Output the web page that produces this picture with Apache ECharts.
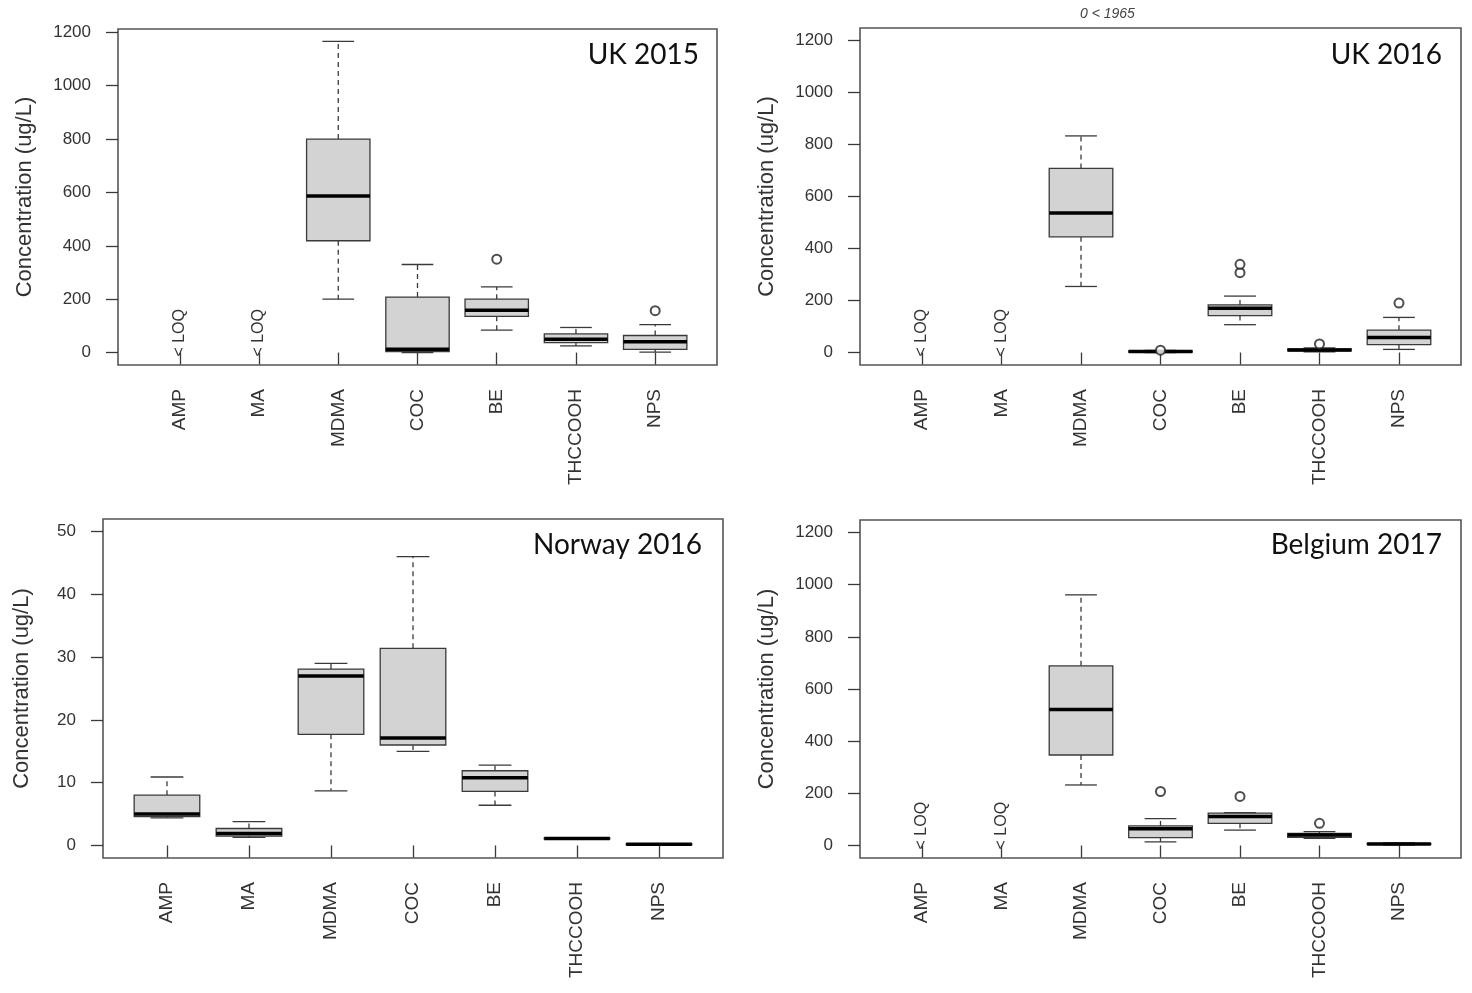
<!DOCTYPE html>
<html>
<head>
<meta charset="utf-8">
<script src="https://cdn.jsdelivr.net/npm/echarts@6/dist/echarts.min.js"></script>
<style>
html,body{margin:0;padding:0;background:#fff;}
#chart{width:1472px;height:993px;}
</style>
</head>
<body>
<div id="chart"></div>
<script>
// ---------------- DATA ----------------
const categories = ['AMP', 'MA', 'MDMA', 'COC', 'BE', 'THCCOOH', 'NPS'];

// box stats per category: [min whisker, Q1, median, Q3, max whisker]; null = not drawn
const uk2015Box = [null, null, [200, 419, 587, 800, 1166], [0, 4, 12, 208, 330], [84, 136, 159, 200, 246], [25, 37, 50, 70, 94], [2, 12, 41, 64, 105]];
const uk2015Outliers = [['BE', 350], ['NPS', 157]];
const uk2015Loq = ['AMP', 'MA'];

const uk2016Box = [null, null, [254, 445, 537, 708, 833], [0, 2, 4, 6, 8], [107, 142, 170, 183, 217], [3, 6, 10, 14, 18], [12, 30, 58, 86, 135]];
const uk2016Outliers = [['COC', 9], ['BE', 307], ['BE', 339], ['THCCOOH', 33], ['NPS', 190]];
const uk2016Loq = ['AMP', 'MA'];
const uk2016OffScaleNote = '0 < 1965';

const norway2016Box = [[4.4, 4.6, 5.0, 8.0, 10.9], [1.3, 1.5, 1.9, 2.7, 3.8], [8.7, 17.7, 27.0, 28.1, 29.0], [15.0, 16.0, 17.1, 31.4, 46.0], [6.4, 8.6, 10.8, 11.9, 12.8], [1.0, 1.05, 1.1, 1.15, 1.2], [0.1, 0.15, 0.2, 0.25, 0.3]];
const norway2016Outliers = [];
const norway2016Loq = [];

const belgium2017Box = [null, null, [232, 347, 521, 689, 961], [14, 30, 64, 75, 103], [59, 85, 111, 124, 126], [27, 31, 40, 46, 53], [2, 4, 6, 8, 10]];
const belgium2017Outliers = [['COC', 207], ['BE', 188], ['THCCOOH', 85]];
const belgium2017Loq = ['AMP', 'MA'];

const yTicksUg = [0, 200, 400, 600, 800, 1000, 1200];
const yTicksNorway = [0, 10, 20, 30, 40, 50];
const yAxisTitle = 'Concentration (ug/L)';

// ---------------- LAYOUT ----------------
const panels = [
  {title: 'UK 2015', box: uk2015Box, out: uk2015Outliers, loq: uk2015Loq, yMin: -46.6, yMax: 1212.6, yTicks: yTicksUg,
   left: 118, top: 29, width: 599, height: 336, nameGap: 82, titleRight: 773, titleTop: 41},
  {title: 'UK 2016', box: uk2016Box, out: uk2016Outliers, loq: uk2016Loq, yMin: -48, yMax: 1248, yTicks: yTicksUg,
   left: 860, top: 28, width: 601, height: 337, nameGap: 82, titleRight: 30, titleTop: 41},
  {title: 'Norway 2016', box: norway2016Box, out: norway2016Outliers, loq: norway2016Loq, yMin: -2, yMax: 52, yTicks: yTicksNorway,
   left: 103, top: 519, width: 620, height: 339, nameGap: 70, titleRight: 770, titleTop: 531},
  {title: 'Belgium 2017', box: belgium2017Box, out: belgium2017Outliers, loq: belgium2017Loq, yMin: -48, yMax: 1248, yTicks: yTicksUg,
   left: 860, top: 520, width: 601, height: 338, nameGap: 82, titleRight: 30, titleTop: 531}
];

const axisFont = 'Liberation Sans, Arial, sans-serif';
const textColor = '#333';
const lineColor = '#3a3a3a';

function renderBox(params, api) {
  const x = api.value(0);
  const lo = api.value(1), q1 = api.value(2), med = api.value(3), q3 = api.value(4), hi = api.value(5);
  const w = api.size([0.8, 0])[0];
  const cx = api.coord([x, med])[0];
  const py = v => api.coord([x, v])[1];
  const half = w / 2, cap = w / 4;
  const dashed = {stroke: lineColor, lineWidth: 1.3, lineDash: [5, 4]};
  const solid = {stroke: lineColor, lineWidth: 1.3};
  return {
    type: 'group',
    children: [
      {type: 'line', shape: {x1: cx, y1: py(q3), x2: cx, y2: py(hi)}, style: dashed},
      {type: 'line', shape: {x1: cx, y1: py(q1), x2: cx, y2: py(lo)}, style: dashed},
      {type: 'line', shape: {x1: cx - cap, y1: py(hi), x2: cx + cap, y2: py(hi)}, style: solid},
      {type: 'line', shape: {x1: cx - cap, y1: py(lo), x2: cx + cap, y2: py(lo)}, style: solid},
      {type: 'rect', shape: {x: cx - half, y: py(q3), width: w, height: py(q1) - py(q3)},
       style: {fill: '#d3d3d3', stroke: lineColor, lineWidth: 1.3}},
      {type: 'line', shape: {x1: cx - half, y1: py(med), x2: cx + half, y2: py(med)},
       style: {stroke: '#000', lineWidth: 3.5}}
    ]
  };
}

function renderLoq(params, api) {
  const p = api.coord([api.value(0), api.value(1)]);
  return {
    type: 'text', x: p[0], y: p[1] + 4, rotation: Math.PI / 2,
    style: {text: '< LOQ', textAlign: 'left', textVerticalAlign: 'middle',
            font: '16px ' + axisFont, fill: textColor}
  };
}

const grid = [], xAxis = [], yAxis = [], series = [], title = [];
panels.forEach((p, i) => {
  grid.push({left: p.left, top: p.top, width: p.width, height: p.height, show: true,
             borderColor: '#555', borderWidth: 1.6, backgroundColor: 'transparent',
             containLabel: false, outerBoundsMode: 'none'});
  const xTicks = categories.map((c, k) => k + 1);
  xAxis.push({gridIndex: i, type: 'value', min: 0.22, max: 7.78,
    axisLine: {show: false}, splitLine: {show: false},
    axisTick: {show: true, customValues: xTicks, length: 12, lineStyle: {color: lineColor, width: 1.3}},
    axisLabel: {show: true, customValues: xTicks, rotate: 90, margin: 24, fontSize: 19, fontFamily: axisFont,
                color: textColor, hideOverlap: false,
                formatter: v => categories[Math.round(v) - 1]}});
  yAxis.push({gridIndex: i, type: 'value', min: p.yMin, max: p.yMax,
    name: yAxisTitle, nameLocation: 'middle', nameGap: p.nameGap,
    nameTextStyle: {fontSize: 22, fontFamily: axisFont, color: textColor},
    axisLine: {show: false}, splitLine: {show: false},
    axisTick: {show: true, customValues: p.yTicks, length: 12, lineStyle: {color: lineColor, width: 1.3}},
    axisLabel: {show: true, customValues: p.yTicks, margin: 27, fontSize: 17, fontFamily: axisFont,
                color: textColor, hideOverlap: false, formatter: v => String(v)}});
  const boxData = [];
  p.box.forEach((b, k) => { if (b) boxData.push([k + 1].concat(b)); });
  series.push({type: 'custom', xAxisIndex: i, yAxisIndex: i, renderItem: renderBox,
               encode: {x: 0, y: [1, 2, 3, 4, 5]}, data: boxData, silent: true});
  series.push({type: 'scatter', xAxisIndex: i, yAxisIndex: i, symbol: 'emptyCircle', symbolSize: 9,
               itemStyle: {color: '#222', borderWidth: 1.2}, silent: true,
               data: p.out.map(o => [categories.indexOf(o[0]) + 1, o[1]])});
  if (p.loq.length) {
    series.push({type: 'custom', xAxisIndex: i, yAxisIndex: i, renderItem: renderLoq, silent: true,
                 encode: {x: 0, y: 1}, data: p.loq.map(c => [categories.indexOf(c) + 1, 0])});
  }
  title.push({text: p.title, right: p.titleRight, top: p.titleTop, padding: 0,
              textStyle: {fontSize: 28, fontWeight: 'normal', fontFamily: 'Lato, "Open Sans", sans-serif', color: '#111'}});
});

const chart = echarts.init(document.getElementById('chart'), null, {renderer: 'canvas'});
chart.setOption({
  animation: false,
  backgroundColor: '#fff',
  title: title,
  grid: grid,
  xAxis: xAxis,
  yAxis: yAxis,
  series: series,
  graphic: [{type: 'text', left: 1080, top: 7,
             style: {text: uk2016OffScaleNote, font: 'italic 14px ' + axisFont, fill: '#444'}}]
});
</script>
</body>
</html>
